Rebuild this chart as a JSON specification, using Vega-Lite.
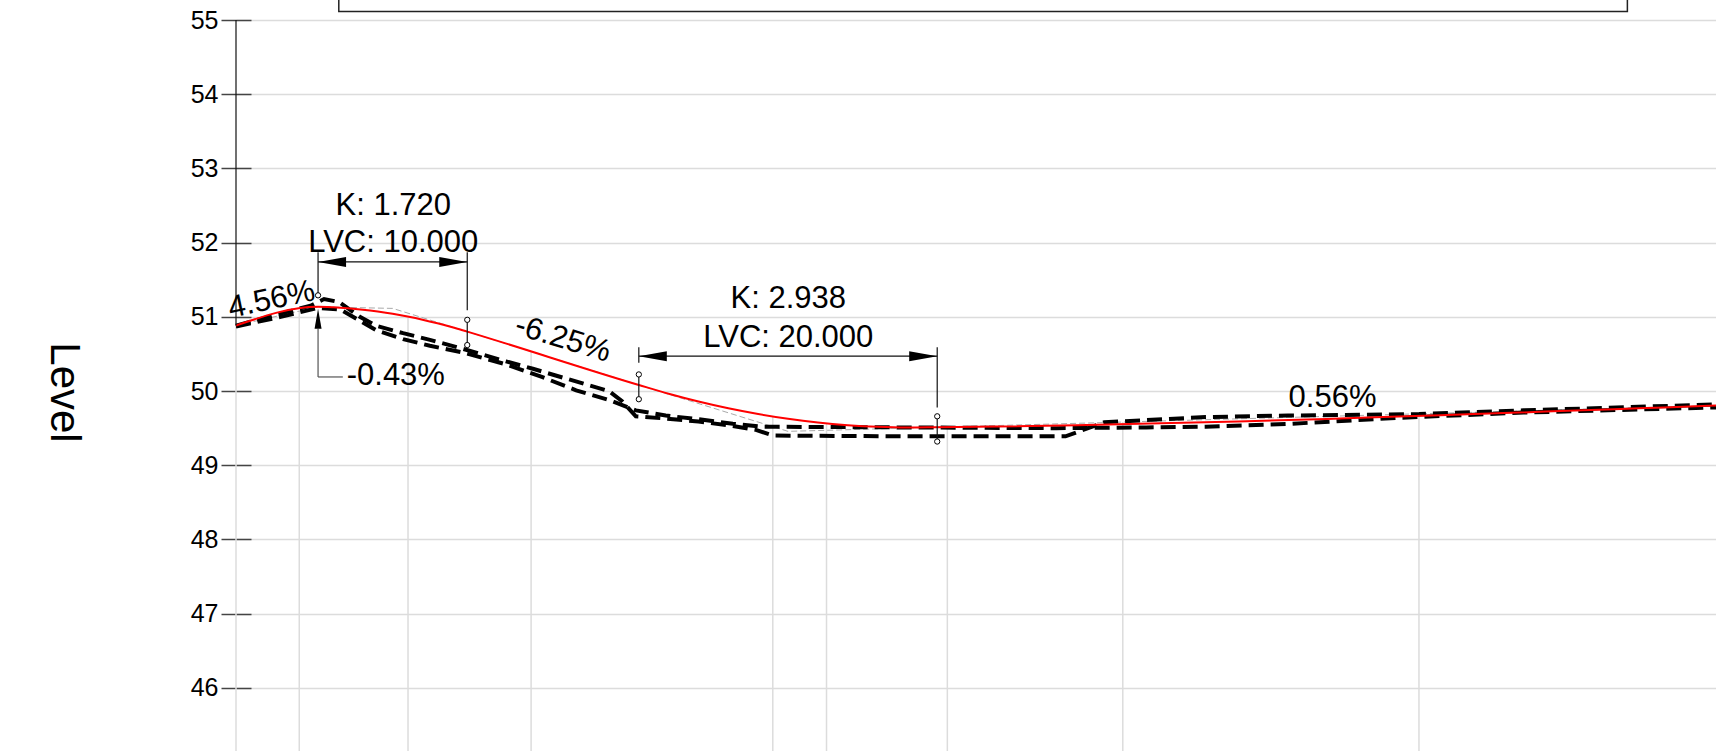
{
  "$schema": "https://vega.github.io/schema/vega-lite/v6.json",
  "width": 1480,
  "height": 731,
  "autosize": {"type": "none"},
  "padding": {"left": 236, "top": 20, "right": 0, "bottom": 0},
  "background": "white",
  "config": {"view": {"stroke": null}, "font": "Liberation Sans"},
  "datasets": {
    "profile": [
      {"series": "design", "s": 0, "lvl": 50.884},
      {"series": "design", "s": 5.5, "lvl": 51.135},
      {"series": "design", "s": 6.5, "lvl": 51.128},
      {"series": "design", "s": 7.5, "lvl": 51.115},
      {"series": "design", "s": 8.5, "lvl": 51.096},
      {"series": "design", "s": 9.5, "lvl": 51.071},
      {"series": "design", "s": 10.5, "lvl": 51.041},
      {"series": "design", "s": 11.5, "lvl": 51.004},
      {"series": "design", "s": 12.5, "lvl": 50.962},
      {"series": "design", "s": 13.5, "lvl": 50.914},
      {"series": "design", "s": 14.5, "lvl": 50.861},
      {"series": "design", "s": 15.5, "lvl": 50.801},
      {"series": "design", "s": 27, "lvl": 50.082},
      {"series": "design", "s": 29, "lvl": 49.964},
      {"series": "design", "s": 31, "lvl": 49.859},
      {"series": "design", "s": 33, "lvl": 49.768},
      {"series": "design", "s": 35, "lvl": 49.691},
      {"series": "design", "s": 37, "lvl": 49.627},
      {"series": "design", "s": 39, "lvl": 49.577},
      {"series": "design", "s": 41, "lvl": 49.541},
      {"series": "design", "s": 43, "lvl": 49.518},
      {"series": "design", "s": 45, "lvl": 49.509},
      {"series": "design", "s": 47, "lvl": 49.513},
      {"series": "design", "s": 99.2, "lvl": 49.805},
      {"series": "tangent", "s": 0, "lvl": 50.884},
      {"series": "tangent", "s": 5.5, "lvl": 51.135},
      {"series": "tangent", "s": 10.5, "lvl": 51.114},
      {"series": "tangent", "s": 37, "lvl": 49.457},
      {"series": "tangent", "s": 99.2, "lvl": 49.805},
      {"series": "ground1", "s": 0, "lvl": 50.88},
      {"series": "ground1", "s": 2.9, "lvl": 51.04},
      {"series": "ground1", "s": 5.0, "lvl": 51.15},
      {"series": "ground1", "s": 5.9, "lvl": 51.24},
      {"series": "ground1", "s": 6.9, "lvl": 51.2},
      {"series": "ground1", "s": 8.3, "lvl": 51.0},
      {"series": "ground1", "s": 9.4, "lvl": 50.88},
      {"series": "ground1", "s": 11.2, "lvl": 50.78},
      {"series": "ground1", "s": 13.0, "lvl": 50.69},
      {"series": "ground1", "s": 15.2, "lvl": 50.57},
      {"series": "ground1", "s": 18.1, "lvl": 50.4},
      {"series": "ground1", "s": 19.9, "lvl": 50.3},
      {"series": "ground1", "s": 22.1, "lvl": 50.17},
      {"series": "ground1", "s": 25.0, "lvl": 50.0},
      {"series": "ground1", "s": 25.9, "lvl": 49.86},
      {"series": "ground1", "s": 26.8, "lvl": 49.66},
      {"series": "ground1", "s": 28.8, "lvl": 49.63},
      {"series": "ground1", "s": 31, "lvl": 49.59},
      {"series": "ground1", "s": 33.3, "lvl": 49.53},
      {"series": "ground1", "s": 34.8, "lvl": 49.48},
      {"series": "ground1", "s": 36, "lvl": 49.4},
      {"series": "ground1", "s": 45, "lvl": 49.39},
      {"series": "ground1", "s": 55.6, "lvl": 49.39},
      {"series": "ground1", "s": 58.2, "lvl": 49.58},
      {"series": "ground1", "s": 65, "lvl": 49.65},
      {"series": "ground1", "s": 70.5, "lvl": 49.67},
      {"series": "ground1", "s": 79.3, "lvl": 49.69},
      {"series": "ground1", "s": 86.3, "lvl": 49.74},
      {"series": "ground1", "s": 99.2, "lvl": 49.82},
      {"series": "ground2", "s": 0, "lvl": 50.87},
      {"series": "ground2", "s": 3, "lvl": 51.0},
      {"series": "ground2", "s": 5.5, "lvl": 51.12},
      {"series": "ground2", "s": 7.0, "lvl": 51.1},
      {"series": "ground2", "s": 9.4, "lvl": 50.82},
      {"series": "ground2", "s": 11.2, "lvl": 50.7},
      {"series": "ground2", "s": 13.0, "lvl": 50.61},
      {"series": "ground2", "s": 15.2, "lvl": 50.52},
      {"series": "ground2", "s": 18.1, "lvl": 50.36},
      {"series": "ground2", "s": 20.5, "lvl": 50.19},
      {"series": "ground2", "s": 22.8, "lvl": 50.01},
      {"series": "ground2", "s": 25.0, "lvl": 49.88},
      {"series": "ground2", "s": 26.8, "lvl": 49.74},
      {"series": "ground2", "s": 28.8, "lvl": 49.67},
      {"series": "ground2", "s": 31, "lvl": 49.62},
      {"series": "ground2", "s": 33.3, "lvl": 49.56},
      {"series": "ground2", "s": 35.3, "lvl": 49.52},
      {"series": "ground2", "s": 45, "lvl": 49.51},
      {"series": "ground2", "s": 55, "lvl": 49.5},
      {"series": "ground2", "s": 61, "lvl": 49.51},
      {"series": "ground2", "s": 65, "lvl": 49.52},
      {"series": "ground2", "s": 70.8, "lvl": 49.56},
      {"series": "ground2", "s": 78, "lvl": 49.64},
      {"series": "ground2", "s": 86.3, "lvl": 49.71},
      {"series": "ground2", "s": 99.2, "lvl": 49.78}
    ],
    "vgrid": [
      {"s": 0, "lvl": 50.884},
      {"s": 4.24, "lvl": 51.077},
      {"s": 11.53, "lvl": 51.003},
      {"s": 19.78, "lvl": 50.533},
      {"s": 35.98, "lvl": 49.658},
      {"s": 39.58, "lvl": 49.565},
      {"s": 47.68, "lvl": 49.517},
      {"s": 59.44, "lvl": 49.582},
      {"s": 79.29, "lvl": 49.694}
    ],
    "segments": [
      {"kind": "dim", "s": 0, "lvl": 50.884, "s2": 0, "lvl2": 55},
      {"kind": "dim", "s": 5.5, "lvl": 51.74, "s2": 15.5, "lvl2": 51.74},
      {"kind": "dim", "s": 5.5, "lvl": 51.87, "s2": 5.5, "lvl2": 51.31},
      {"kind": "dim", "s": 15.5, "lvl": 51.87, "s2": 15.5, "lvl2": 51.09},
      {"kind": "dim", "s": 15.5, "lvl": 50.96, "s2": 15.5, "lvl2": 50.62},
      {"kind": "dim", "s": 27, "lvl": 50.47, "s2": 47, "lvl2": 50.47},
      {"kind": "dim", "s": 27, "lvl": 50.59, "s2": 27, "lvl2": 50.38},
      {"kind": "dim", "s": 47, "lvl": 50.59, "s2": 47, "lvl2": 49.78},
      {"kind": "dim", "s": 27, "lvl": 50.224, "s2": 27, "lvl2": 49.89},
      {"kind": "dim", "s": 47, "lvl": 49.66, "s2": 47, "lvl2": 49.32},
      {"kind": "leader", "s": 5.5, "lvl": 50.84, "s2": 5.5, "lvl2": 50.19},
      {"kind": "leader", "s": 5.5, "lvl": 50.19, "s2": 7.16, "lvl2": 50.19}
    ],
    "circles": [
      {"s": 5.5, "lvl": 51.29},
      {"s": 15.5, "lvl": 50.96},
      {"s": 15.5, "lvl": 50.62},
      {"s": 27, "lvl": 50.224},
      {"s": 27, "lvl": 49.89},
      {"s": 47, "lvl": 49.66},
      {"s": 47, "lvl": 49.32}
    ],
    "arrows": [
      {"dir": "left", "s": 5.5, "lvl": 51.74},
      {"dir": "right", "s": 15.5, "lvl": 51.74},
      {"dir": "left", "s": 27, "lvl": 50.47},
      {"dir": "right", "s": 47, "lvl": 50.47},
      {"dir": "up", "s": 5.5, "lvl": 51.11}
    ],
    "box": [
      {"s": 6.89, "s2": 93.26, "lvl": 55.115, "lvl2": 55.6}
    ],
    "labels": [
      {"kind": "center", "label": "K: 1.720", "s": 10.54, "lvl": 52.372},
      {"kind": "center", "label": "LVC: 10.000", "s": 10.54, "lvl": 51.87},
      {"kind": "center", "label": "K: 2.938", "s": 37.02, "lvl": 51.115},
      {"kind": "center", "label": "LVC: 20.000", "s": 37.02, "lvl": 50.598},
      {"kind": "center", "label": "0.56%", "s": 73.5, "lvl": 49.79},
      {"kind": "left", "label": "-0.43%", "s": 7.42, "lvl": 50.082},
      {"kind": "up", "label": "4.56%", "s": 2.38, "lvl": 51.227},
      {"kind": "down", "label": "-6.25%", "s": 21.9, "lvl": 50.7}
    ]
  },
  "encoding": {
    "x": {"field": "s", "type": "quantitative", "scale": {"domain": [0, 99.2], "nice": false, "zero": false}, "axis": null},
    "y": {"field": "lvl", "type": "quantitative", "scale": {"domain": [45.15, 55], "nice": false, "zero": false},
      "axis": {
        "title": "Level", "values": [46, 47, 48, 49, 50, 51, 52, 53, 54, 55], "format": "d",
        "offset": -15, "tickSize": 30, "tickColor": "#444", "tickWidth": 1.5,
        "domain": false, "grid": true, "gridColor": "#dcdcdc", "gridWidth": 1.5,
        "labelFont": "Liberation Sans", "labelFontSize": 25, "labelColor": "#000", "labelPadding": 3,
        "titleFont": "Liberation Sans", "titleFontSize": 42, "titleFontWeight": 300, "titleColor": "#000",
        "titleAngle": 90, "titleX": -201, "titleY": 372, "titleAlign": "center", "titleBaseline": "alphabetic"
      }}
  },
  "layer": [
    {
      "data": {"name": "vgrid"},
      "mark": {"type": "rule", "color": "#dcdcdc", "strokeWidth": 1.5},
      "encoding": {"y2": {"datum": 45.15}}
    },
    {
      "data": {"name": "box"},
      "mark": {"type": "rect", "fill": "white", "stroke": "#222", "strokeWidth": 1.5},
      "encoding": {"x2": {"field": "s2"}, "y2": {"field": "lvl2"}}
    },
    {
      "data": {"name": "profile"},
      "transform": [{"filter": "datum.series === 'tangent'"}],
      "mark": {"type": "line", "color": "#aaaaaa", "strokeWidth": 1, "strokeDash": [6, 3]},
      "encoding": {}
    },
    {
      "data": {"name": "profile"},
      "transform": [{"filter": "datum.series === 'ground1'"}],
      "mark": {"type": "line", "color": "#000", "strokeWidth": 4, "strokeDash": [15, 7]},
      "encoding": {}
    },
    {
      "data": {"name": "profile"},
      "transform": [{"filter": "datum.series === 'ground2'"}],
      "mark": {"type": "line", "color": "#000", "strokeWidth": 4, "strokeDash": [15, 7]},
      "encoding": {}
    },
    {
      "data": {"name": "profile"},
      "transform": [{"filter": "datum.series === 'design'"}],
      "mark": {"type": "line", "color": "#ff0000", "strokeWidth": 2, "interpolate": "monotone"},
      "encoding": {}
    },
    {
      "data": {"name": "segments"},
      "transform": [{"filter": "datum.kind === 'dim'"}],
      "mark": {"type": "rule", "color": "#111", "strokeWidth": 1.2},
      "encoding": {"x2": {"field": "s2"}, "y2": {"field": "lvl2"}}
    },
    {
      "data": {"name": "segments"},
      "transform": [{"filter": "datum.kind === 'leader'"}],
      "mark": {"type": "rule", "color": "#555", "strokeWidth": 1.2},
      "encoding": {"x2": {"field": "s2"}, "y2": {"field": "lvl2"}}
    },
    {
      "data": {"name": "circles"},
      "mark": {"type": "point", "shape": "circle", "size": 28, "filled": false, "fill": "white", "fillOpacity": 1, "stroke": "#000", "strokeWidth": 1, "opacity": 1}
    },
    {
      "data": {"name": "arrows"},
      "transform": [{"filter": "datum.dir !== 'up'"}],
      "mark": {"type": "point", "filled": true, "color": "#000", "opacity": 1, "size": 784, "strokeWidth": 0},
      "encoding": {
        "shape": {"field": "dir", "type": "nominal", "legend": null,
          "scale": {"domain": ["left", "right"], "range": ["M0,0L2,-0.36L2,0.36Z", "M0,0L-2,-0.36L-2,0.36Z"]}}
      }
    },
    {
      "data": {"name": "arrows"},
      "transform": [{"filter": "datum.dir === 'up'"}],
      "mark": {"type": "point", "filled": true, "color": "#000", "opacity": 1, "size": 400, "strokeWidth": 0, "shape": "M0,0L-0.35,2L0.35,2Z"}
    },
    {
      "data": {"name": "labels"},
      "transform": [{"filter": "datum.kind === 'center'"}],
      "mark": {"type": "text", "font": "Liberation Sans", "fontSize": 31, "color": "#000", "align": "center", "baseline": "alphabetic"},
      "encoding": {"text": {"field": "label"}}
    },
    {
      "data": {"name": "labels"},
      "transform": [{"filter": "datum.kind === 'left'"}],
      "mark": {"type": "text", "font": "Liberation Sans", "fontSize": 31, "color": "#000", "align": "left", "baseline": "alphabetic"},
      "encoding": {"text": {"field": "label"}}
    },
    {
      "data": {"name": "labels"},
      "transform": [{"filter": "datum.kind === 'up'"}],
      "mark": {"type": "text", "font": "Liberation Sans", "fontSize": 31, "color": "#000", "align": "center", "baseline": "middle", "angle": 348},
      "encoding": {"text": {"field": "label"}}
    },
    {
      "data": {"name": "labels"},
      "transform": [{"filter": "datum.kind === 'down'"}],
      "mark": {"type": "text", "font": "Liberation Sans", "fontSize": 31, "color": "#000", "align": "center", "baseline": "middle", "angle": 17},
      "encoding": {"text": {"field": "label"}}
    }
  ]
}
